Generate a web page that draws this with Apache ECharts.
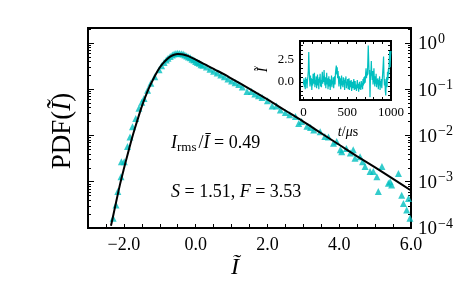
<!DOCTYPE html>
<html><head><meta charset="utf-8">
<script src="https://cdn.jsdelivr.net/npm/echarts@6/dist/echarts.min.js"></script>
<style>html,body{margin:0;padding:0;background:#fff}#c{width:462px;height:286px}</style>
</head><body><div id="c"></div>
<script>
// ---- main curve (fit) ----
const curveX = [-2.36,-2.3,-2.2,-2.1,-2.0,-1.9,-1.8,-1.7,-1.6,-1.5,-1.4,-1.3,-1.2,-1.1,-1.0,-0.9,-0.8,-0.7,-0.6,-0.5,-0.4,-0.3,-0.2,-0.1,0.0,0.2,0.4,0.6,0.8,1.0,1.5,2.0,2.5,3.0,3.5,4.0,4.5,5.0,5.5,6.0];
const curveY = [1.12e-4,1.82e-4,4.17e-4,9.33e-4,1.91e-3,3.80e-3,7.41e-3,1.38e-2,2.45e-2,4.27e-2,6.92e-2,0.107,0.155,0.219,0.295,0.372,0.447,0.513,0.556,0.575,0.569,0.550,0.519,0.479,0.437,0.363,0.302,0.251,0.209,0.170,0.102,0.0603,0.0347,0.0200,0.0112,6.31e-3,3.55e-3,2.04e-3,1.15e-3,6.46e-4];

// ---- measured PDF (triangles) ----
const scatterX = [-2.30,-2.22,-2.17,-2.08,-2.07,-1.99,-1.90,-1.83,-1.76,-1.67,-1.58,-1.50,-1.44,-1.34,-1.25,-1.14,-1.02,-0.95,-0.88,-0.82,-0.77,-0.71,-0.65,-0.60,-0.55,-0.50,-0.45,-0.40,-0.35,-0.30,-0.25,-0.20,-0.15,-0.10,-0.05,0.00,0.05,0.10,0.15,0.20,0.30,0.40,0.50,0.60,0.70,0.80,0.90,1.00,1.10,1.20,1.30,1.43,1.55,1.65,1.75,1.85,2.00,2.13,2.25,2.36,2.50,2.62,2.78,2.87,2.95,3.10,3.20,3.29,3.47,3.60,3.70,3.84,3.93,4.03,4.07,4.20,4.31,4.39,4.44,4.58,4.65,4.72,4.86,4.95,5.05,5.09,5.19,5.37,5.42,5.46,5.65,5.74,5.79,5.88,5.93,5.97];
const scatterY = [1.62e-4,3.16e-4,6.17e-4,1.29e-3,2.69e-3,2.69e-3,5.75e-3,9.33e-3,1.55e-2,2.34e-2,3.89e-2,5.25e-2,6.31e-2,9.55e-2,0.135,0.186,0.263,0.324,0.380,0.427,0.468,0.513,0.550,0.575,0.596,0.603,0.596,0.589,0.575,0.550,0.525,0.501,0.479,0.447,0.427,0.398,0.380,0.363,0.339,0.331,0.302,0.269,0.245,0.224,0.204,0.186,0.166,0.151,0.138,0.126,0.112,0.0891,0.0891,0.0794,0.0724,0.0661,0.0562,0.0437,0.0437,0.0355,0.0316,0.0282,0.0257,0.0182,0.0200,0.0158,0.0148,0.0132,0.0120,9.55e-3,9.33e-3,6.76e-3,7.41e-3,4.90e-3,4.47e-3,5.25e-3,4.17e-3,4.90e-3,3.24e-3,3.47e-3,2.69e-3,2.14e-3,1.66e-3,1.66e-3,1.29e-3,6.17e-4,2.14e-3,9.33e-4,1.0e-3,8.51e-4,1.51e-3,5.13e-4,3.39e-4,2.45e-4,4.37e-4,1.62e-4];

// ---- axis tick labels ----
const xTickValues = [-2, 0, 2, 4, 6];
const xTickLabels = ['\u22122.0', '0.0', '2.0', '4.0', '6.0'];
const yDecades = [-4, -3, -2, -1, 0];
const yMin = 1e-4, yMax = 2.11;

// ---- inset time series ----
const insetDt = 5; // microseconds per sample
const insetValues = [
 -0.3,0.4,-0.6,0.2,-0.8,0.5,-0.2,0.3,-0.7,0.1,
 0.6,1.2,3.3,1.5,0.2,-0.5,0.7,-0.3,0.4,-0.9,
 0.3,-0.4,0.9,-0.2,0.5,1.0,-0.6,0.2,-0.3,0.6,
 -0.7,0.1,0.8,-0.4,0.3,-0.8,0.5,-0.1,0.9,-0.5,
 0.2,-0.6,0.4,1.1,-0.2,0.6,0.0,1.3,0.3,-0.4,
 0.5,-0.7,0.2,1.0,-0.3,0.4,-0.8,0.1,0.6,-0.5,
 0.3,-0.9,0.2,-0.4,0.7,-0.6,0.1,-0.2,0.5,-0.7,
 0.0,0.6,-0.3,0.9,1.4,1.8,0.8,1.6,0.4,1.2,
 0.3,-0.5,0.6,-0.2,0.4,-0.8,0.2,0.7,-0.4,0.1,
 -0.6,0.5,-0.3,0.2,-0.9,0.4,-0.1,0.6,-0.7,0.0,
 -0.4,0.3,-0.8,-0.2,0.4,-0.9,-0.3,0.1,-0.6,0.2,
 -1.0,-0.4,0.0,-0.7,-0.2,0.3,-0.9,-0.5,0.1,-0.8,
 -0.3,-1.0,-0.5,0.2,-0.7,-0.2,-1.1,-0.4,0.0,-0.8,
 -0.3,-0.9,0.1,-0.6,-0.1,-0.8,0.3,-0.4,0.5,-0.2,
 0.6,-0.1,0.9,1.5,0.4,1.1,0.7,2.2,4.0,2.4,
 0.8,1.3,-1.7,0.5,1.0,2.3,0.9,0.2,1.2,-0.3,
 0.7,1.5,0.1,-0.5,0.6,-0.2,0.9,-0.6,0.3,-0.3,
 0.4,-0.8,0.2,-0.4,0.6,-0.9,0.1,-0.5,0.3,-0.7,
 0.2,1.0,1.8,2.8,0.6,-0.4,0.3,-1.0,-1.5,-0.2,
 0.5,-0.6,1.1,0.2,1.4,0.8,2.4,3.4,1.6,2.9,
 3.4];
const insetXLabels = [0, 500, 1000];
const insetYLabels = [0, 2.5];

// ---------------------------------------------------------
const CYAN = '#00bfbf';
const SERIF = 'Liberation Serif';
const logMax = Math.log10(yMax), logMin = Math.log10(yMin);
const yMinor = [];
yDecades.concat([-5]).forEach(n => { for (let k = 2; k <= 9; k++) { const v = n + Math.log10(k); if (v > logMin && v < logMax) yMinor.push(v); } });
const insetXTicks = []; for (let t = 0; t <= 1000; t += 100) insetXTicks.push(t);
const insetYTicks = []; for (let v = -2; v <= 4.5 + 1e-9; v += 0.5) insetYTicks.push(+v.toFixed(2));

const chart = echarts.init(document.getElementById('c'), null, {renderer: 'canvas'});
const tickStyle = {color: '#000', width: 1};
const noLine = {show: false, onZero: false};
function yLogAxis(pos, ticks, len, labels) {
  return {
    gridIndex: 0, type: 'value', position: pos, min: logMin, max: logMax,
    axisLine: noLine, splitLine: {show: false},
    axisTick: {show: true, inside: true, length: len, customValues: ticks, lineStyle: tickStyle},
    axisLabel: labels ? {
      show: true, customValues: yDecades, margin: 7, color: '#000',
      formatter: v => '{b|10}{s|' + String(Math.round(v)).replace('-', '\u2212') + '}',
      rich: {
        b: {fontFamily: SERIF, fontSize: 19, color: '#000', verticalAlign: 'bottom', lineHeight: 22},
        s: {fontFamily: SERIF, fontSize: 14, color: '#000', verticalAlign: 'bottom', padding: [0, 0, 8, 1], lineHeight: 14}
      }
    } : {show: false}
  };
}

const option = {
  animation: false,
  backgroundColor: '#fff',
  grid: [
    {left: 88, right: 51, top: 28, bottom: 58, show: true, borderColor: '#000', borderWidth: 2, backgroundColor: 'transparent', z: 0},
    {left: 300, top: 41, width: 91, height: 59, show: true, borderColor: '#000', borderWidth: 2, backgroundColor: '#fff', z: 5}
  ],
  xAxis: [
    {gridIndex: 0, type: 'value', min: -3, max: 6, interval: 0.5, position: 'bottom',
     axisLine: noLine, splitLine: {show: false},
     axisTick: {show: true, inside: true, length: 4, interval: 0, lineStyle: tickStyle},
     axisLabel: {interval: 0, margin: 8, color: '#000', fontFamily: SERIF, fontSize: 18,
       formatter: v => { const i = xTickValues.indexOf(Math.round(v * 100) / 100); return i >= 0 ? xTickLabels[i] : ''; }}},
    {gridIndex: 1, type: 'value', min: -40, max: 1000, position: 'bottom', z: 6,
     axisLine: noLine, splitLine: {show: false},
     axisTick: {show: true, inside: true, length: 3, customValues: insetXTicks, lineStyle: tickStyle},
     axisLabel: {customValues: insetXLabels, margin: 6, color: '#000', fontFamily: SERIF, fontSize: 13, formatter: v => String(v)}},
    {gridIndex: 1, type: 'value', min: -40, max: 1000, position: 'top', z: 6,
     axisLine: noLine, splitLine: {show: false},
     axisTick: {show: true, inside: true, length: 3, customValues: insetXTicks, lineStyle: tickStyle},
     axisLabel: {show: false}}
  ],
  yAxis: [
    {gridIndex: 0, type: 'log', min: yMin, max: yMax, show: false, axisLine: noLine},
    yLogAxis('left', yDecades, 6, false),
    yLogAxis('left', yMinor, 3, false),
    yLogAxis('right', yDecades, 6, true),
    yLogAxis('right', yMinor, 3, false),
    {gridIndex: 1, type: 'value', min: -2, max: 4.5, position: 'left', z: 6,
     axisLine: noLine, splitLine: {show: false},
     axisTick: {show: true, inside: true, length: 3, customValues: insetYTicks, lineStyle: tickStyle},
     axisLabel: {customValues: insetYLabels, margin: 6, color: '#000', fontFamily: SERIF, fontSize: 13, formatter: v => v.toFixed(1)}},
    {gridIndex: 1, type: 'value', min: -2, max: 4.5, position: 'right', z: 6,
     axisLine: noLine, splitLine: {show: false},
     axisTick: {show: true, inside: true, length: 3, customValues: insetYTicks, lineStyle: tickStyle},
     axisLabel: {show: false}}
  ],
  series: [
    {type: 'scatter', xAxisIndex: 0, yAxisIndex: 0, symbol: 'triangle', symbolSize: 7,
     itemStyle: {color: CYAN}, data: scatterX.map((x, i) => [x, scatterY[i]]), z: 2},
    {type: 'line', xAxisIndex: 0, yAxisIndex: 0, showSymbol: false, smooth: 0.3,
     lineStyle: {color: '#000', width: 2}, data: curveX.map((x, i) => [x, curveY[i]]), z: 3},
    {type: 'line', xAxisIndex: 1, yAxisIndex: 5, showSymbol: false, z: 6,
     lineStyle: {color: CYAN, width: 1.2}, data: insetValues.map((v, i) => [i * insetDt, v])}
  ],
  graphic: [
    // mask a stray row of tick marks just under the main plot's top border
    {type: 'rect', shape: {x: 92, y: 30, width: 206, height: 5}, style: {fill: '#fff'}, z: 9, silent: true},
    {type: 'text', x: 63, y: 131, rotation: Math.PI / 2, z: 10,
     style: {text: '{n|PDF(}{i|\u0128}{n|)}', textAlign: 'center', textVerticalAlign: 'middle',
       rich: {n: {fontFamily: SERIF, fontSize: 27, fill: '#000'}, i: {fontFamily: SERIF, fontStyle: 'italic', fontSize: 27, fill: '#000'}}}},
    {type: 'text', x: 235, y: 268, z: 10,
     style: {text: '\u0128', fontFamily: SERIF, fontStyle: 'italic', fontSize: 24, fill: '#000', textAlign: 'center', textVerticalAlign: 'middle'}},
    {type: 'text', x: 171, y: 144, z: 10,
     style: {text: '{i|I}{sub|rms}{n|/}{i|\u012A}{n| = 0.49}', textAlign: 'left', textVerticalAlign: 'middle',
       rich: {n: {fontFamily: SERIF, fontSize: 18, fill: '#000', verticalAlign: 'top'},
              i: {fontFamily: SERIF, fontStyle: 'italic', fontSize: 18, fill: '#000', verticalAlign: 'top'},
              sub: {fontFamily: SERIF, fontSize: 13, fill: '#000', verticalAlign: 'top', padding: [7, 2, 0, 0]}}}},
    {type: 'text', x: 171, y: 192, z: 10,
     style: {text: '{i|S}{n| = 1.51, }{i|F}{n| = 3.53}', textAlign: 'left', textVerticalAlign: 'middle',
       rich: {n: {fontFamily: SERIF, fontSize: 18, fill: '#000'}, i: {fontFamily: SERIF, fontStyle: 'italic', fontSize: 18, fill: '#000'}}}},
    {type: 'text', x: 263, y: 70, rotation: Math.PI / 2, z: 10,
     style: {text: '\u0128', fontFamily: SERIF, fontStyle: 'italic', fontSize: 14, fill: '#000', textAlign: 'center', textVerticalAlign: 'middle'}},
    {type: 'text', x: 348, y: 132, z: 10,
     style: {text: '{i|t}{n|/}{i|\u03BC}{n|s}', textAlign: 'center', textVerticalAlign: 'middle',
       rich: {n: {fontFamily: SERIF, fontSize: 14, fill: '#000'}, i: {fontFamily: SERIF, fontStyle: 'italic', fontSize: 14, fill: '#000'}}}}
  ]
};
chart.setOption(option);
</script>
</body></html>
